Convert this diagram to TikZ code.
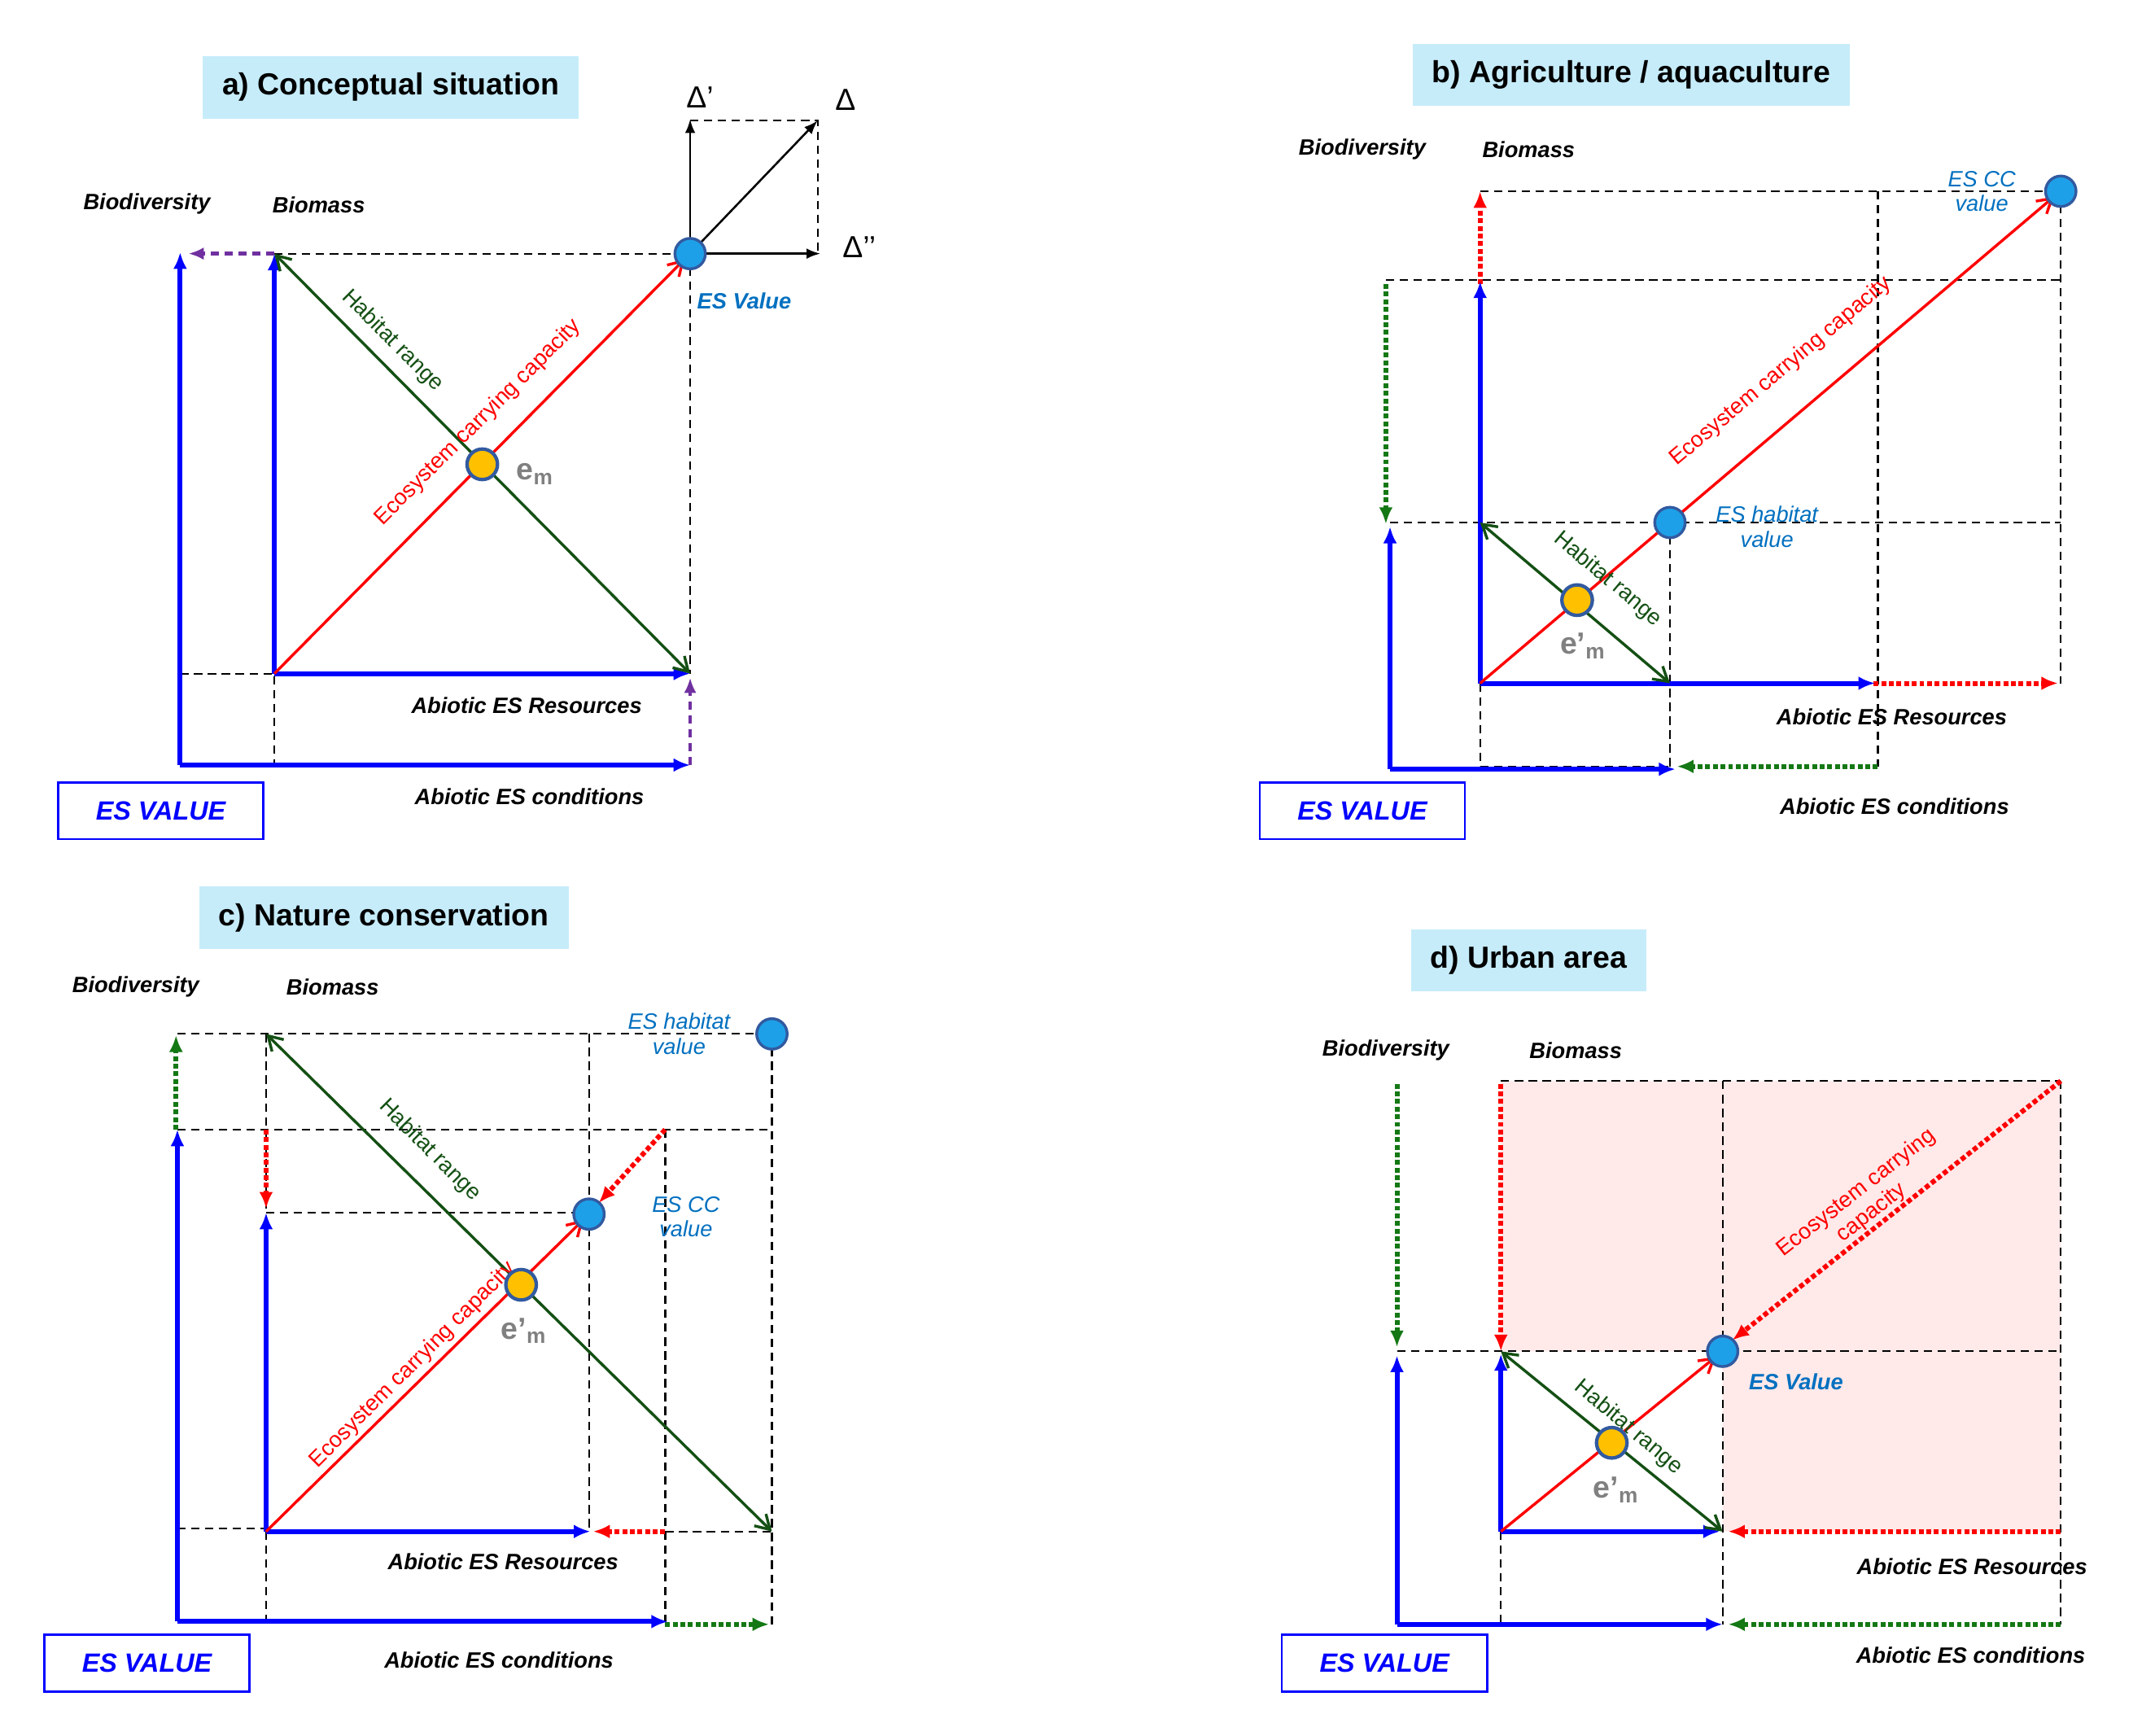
\documentclass[tikz,border=0pt]{standalone}
\usepackage{fontspec}
\setmainfont{Liberation Sans}
\usetikzlibrary{arrows.meta}
\definecolor{tcyan}{RGB}{198,236,250}
\definecolor{esblue}{RGB}{0,112,192}
\definecolor{cfill}{RGB}{30,160,232}
\definecolor{cbord}{RGB}{50,90,160}
\definecolor{dgreen}{RGB}{20,80,20}
\definecolor{mgreen}{RGB}{20,120,20}
\definecolor{purp}{RGB}{112,48,160}
\definecolor{emorange}{RGB}{255,192,0}
\begin{document}
\begin{tikzpicture}[x=1pt,y=-1pt,
 ax/.style={draw=blue,line width=3.5pt,-{Latex[length=12pt,width=10pt]}},
 dsh/.style={draw=black,dash pattern=on 6pt off 4pt,line width=1.3pt},
 redarr/.style={draw=red,line width=2pt,-{Straight Barb[length=10pt,width=12pt]}},
 grarr/.style={draw=dgreen,line width=2pt,{Straight Barb[length=10pt,width=12pt]}-{Straight Barb[length=10pt,width=12pt]}},
 rdot/.style={draw=red,dotted,line width=3.5pt,-{Latex[length=12pt,width=10pt]}},
 gdot/.style={draw=mgreen,dotted,line width=3.5pt,-{Latex[length=12pt,width=10pt]}},
 pdash/.style={draw=purp,dash pattern=on 6pt off 4pt,line width=2.5pt,-{Latex[length=11pt,width=9pt]}},
 esdot/.style={circle,fill=cfill,draw=cbord,line width=2pt,minimum size=22pt,inner sep=0pt},
 emdot/.style={circle,fill=emorange,draw=cbord,line width=2.5pt,minimum size=22pt,inner sep=0pt},
 lab/.style={font=\fontsize{16}{18}\selectfont\bfseries\itshape},
 eslab/.style={font=\fontsize{16}{18}\selectfont\itshape,text=esblue,align=center},
 emlab/.style={font=\fontsize{22}{24}\selectfont\bfseries,text=gray},
 rlab/.style={font=\fontsize{16}{18}\selectfont,text=red},
 glab/.style={font=\fontsize{16}{18}\selectfont,text=dgreen},
 dlab/.style={font=\fontsize{22}{24}\selectfont},
 title/.style={fill=tcyan,font=\fontsize{22}{26}\selectfont\bfseries,minimum height=45pt,inner xsep=14pt},
 esbox/.style={draw=blue,line width=1.5pt,text=blue,font=\fontsize{19}{22}\selectfont\bfseries\itshape,minimum width=148pt,minimum height=41pt}]
\useasboundingbox (0,0) rectangle (1555,1252);
\fill[white] (0,0) rectangle (1555,1252);

% ================= a =================
\node[title] (ta) at (282,63) {a) Conceptual situation};
\coordinate (aO) at (130,552); \coordinate (aI) at (198,486);
\coordinate (aBd) at (130,182); \coordinate (aBm) at (198,183);
\coordinate (aR) at (498,486); \coordinate (aC) at (498,552);
\draw[dsh] (aBm) -- (498,183) -- (aR);
\draw[dsh] (130,486) -- (aI) -- (198,552);
\draw[pdash] (aBm) -- (136,183);
\draw[pdash] (aC) -- (498,489);
\draw[ax] (aO) -- (aBd);
\draw[ax] (aO) -- (aC);
\draw[ax] (aI) -- (aBm);
\draw[ax] (aI) -- (aR);
\draw[redarr] (aI) -- (494,187);
\draw[grarr] (aBm) -- (aR);
\node[rlab,rotate=45] (aecc) at (345,305) {Ecosystem carrying capacity};
\node[glab,rotate=-45] (ahr) at (283,246) {Habitat range};
\node[emdot] (aem) at (348,335) {};
\node[emlab] (aeml) at (386,342) {e\textsubscript{m}};
% delta
\draw[dsh] (498,87) -- (590,87) -- (590,183);
\draw[black,line width=1.5pt,-{Latex[length=10pt]}] (498,183) -- (498,86);
\draw[black,line width=1.5pt,-{Latex[length=10pt]}] (498,183) -- (592,183);
\draw[black,line width=1.5pt,-{Latex[length=10pt]}] (498,183) -- (590,87);
\node[esdot] (aes) at (498,183) {};
\node[dlab] (d1) at (505,70) {Δ’};
\node[dlab] (d2) at (610,72) {Δ};
\node[dlab] (d3) at (620,178) {Δ’’};
\node[lab,text=esblue] (aesl) at (537,217) {ES Value};
\node[lab] at (106,147) {Biodiversity};
\node[lab] at (230,148) {Biomass};
\node[lab] at (380,509) {Abiotic ES Resources};
\node[lab] at (382,575) {Abiotic ES conditions};
\node[esbox] (ea) at (116,585) {ES VALUE};

% ================= b =================
\node[title] (tb) at (1177,54) {b) Agriculture / aquaculture};
\coordinate (bO) at (1003,555); \coordinate (bI) at (1068,493);
\draw[dsh] (1068,138) -- (1487,138);
\draw[dsh] (1000,202) -- (1487,202);
\draw[dsh] (1003,377) -- (1487,377);
\draw[dsh] (1487,138) -- (1487,493);
\draw[dsh] (1355,138) -- (1355,553);
\draw[dsh] (1205,377) -- (1205,553);
\draw[dsh] (1068,493) -- (1068,553) -- (1205,553);
\draw[rdot] (1068,205) -- (1068,138);
\draw[rdot] (1352,493) -- (1485,493);
\draw[gdot] (1000,205) -- (1000,378);
\draw[gdot] (1355,553) -- (1210,553);
\draw[ax] (bO) -- (1003,380);
\draw[ax] (bO) -- (1209,555);
\draw[ax] (bI) -- (1068,203);
\draw[ax] (bI) -- (1353,493);
\draw[redarr] (bI) -- (1482,142);
\draw[grarr] (1068,377) -- (1205,493);
\node[rlab,rotate=40] at (1285,268) {Ecosystem carrying capacity};
\node[glab,rotate=-40] at (1160,418) {Habitat range};
\node[esdot] (bcc) at (1487,138) {};
\node[esdot] (bhv) at (1205,377) {};
\node[emdot] (bem) at (1138,433) {};
\node[emlab] at (1142,466) {e’\textsubscript{m}};
\node[eslab] at (1430,138) {ES CC\\value};
\node[eslab] at (1275,380) {ES habitat\\value};
\node[lab] at (983,108) {Biodiversity};
\node[lab] at (1103,108) {Biomass};
\node[lab] at (1365,517) {Abiotic ES Resources};
\node[lab] at (1367,582) {Abiotic ES conditions};
\node[esbox] (eb) at (983,585) {ES VALUE};

% ================= c =================
\node[title] (tc) at (277,662) {c) Nature conservation};
\coordinate (cO) at (128,1170); \coordinate (cI) at (192,1105);
\draw[dsh] (128,746) -- (557,746);
\draw[dsh] (128,815) -- (557,815);
\draw[dsh] (192,875) -- (425,875);
\draw[dsh] (192,746) -- (192,875);
\draw[dsh] (425,746) -- (425,1105);
\draw[dsh] (480,815) -- (480,1170);
\draw[dsh] (557,746) -- (557,1175);
\draw[dsh] (128,1103) -- (192,1103);
\draw[dsh] (192,1105) -- (192,1170);
\draw[dsh] (480,1105) -- (557,1105);
\draw[gdot] (127,815) -- (127,747);
\draw[gdot] (480,1172) -- (555,1172);
\draw[rdot] (192,815) -- (192,872);
\draw[rdot] (480,1105) -- (428,1105);
\draw[rdot] (480,815) -- (432,868);
\draw[ax] (cO) -- (128,815);
\draw[ax] (cO) -- (482,1170);
\draw[ax] (cI) -- (192,875);
\draw[ax] (cI) -- (426,1105);
\draw[redarr] (cI) -- (421,880);
\draw[grarr] (192,746) -- (557,1105);
\node[rlab,rotate=45] at (298,985) {Ecosystem carrying capacity};
\node[glab,rotate=-45] at (310,830) {Habitat range};
\node[esdot] (ccc) at (425,876) {};
\node[esdot] (chv) at (557,746) {};
\node[emdot] (cem) at (376,927) {};
\node[emlab] at (378,960) {e’\textsubscript{m}};
\node[eslab] at (495,878) {ES CC\\value};
\node[eslab] at (490,746) {ES habitat\\value};
\node[lab] at (98,712) {Biodiversity};
\node[lab] at (240,712) {Biomass};
\node[lab] at (363,1127) {Abiotic ES Resources};
\node[lab] at (360,1198) {Abiotic ES conditions};
\node[esbox] (ec) at (106,1200) {ES VALUE};

% ================= d =================
\node[title] (td) at (1103,693) {d) Urban area};
\fill[pink!35] (1083,780) -- (1487,780) -- (1487,1105) -- (1243,1105) -- (1243,975) -- (1083,975) -- cycle;
\coordinate (dO) at (1008,1172); \coordinate (dI) at (1083,1105);
\draw[dsh] (1083,780) -- (1487,780);
\draw[dsh] (1008,975) -- (1487,975);
\draw[dsh] (1487,780) -- (1487,1172);
\draw[dsh] (1243,780) -- (1243,1172);
\draw[dsh] (1083,1105) -- (1083,1172);
\draw[gdot] (1008,782) -- (1008,972);
\draw[gdot] (1487,1172) -- (1247,1172);
\draw[rdot] (1083,782) -- (1083,975);
\draw[rdot] (1487,1105) -- (1247,1105);
\draw[rdot] (1487,780) -- (1250,967);
\draw[ax] (dO) -- (1008,978);
\draw[ax] (dO) -- (1243,1172);
\draw[ax] (dI) -- (1083,977);
\draw[ax] (dI) -- (1241,1105);
\draw[redarr] (dI) -- (1238,979);
\draw[grarr] (1083,975) -- (1243,1105);
\node[rlab,rotate=38,align=center] at (1345,868) {Ecosystem carrying\\capacity};
\node[glab,rotate=-40] at (1175,1030) {Habitat range};
\node[esdot] (des) at (1243,975) {};
\node[emdot] (dem) at (1163,1041) {};
\node[emlab] at (1166,1075) {e’\textsubscript{m}};
\node[lab,text=esblue] at (1296,997) {ES Value};
\node[lab] at (1000,758) {Biodiversity};
\node[lab] at (1137,758) {Biomass};
\node[lab] at (1423,1130) {Abiotic ES Resources};
\node[lab] at (1422,1194) {Abiotic ES conditions};
\node[esbox] (ed) at (999,1200) {ES VALUE};
\end{tikzpicture}
\end{document}
